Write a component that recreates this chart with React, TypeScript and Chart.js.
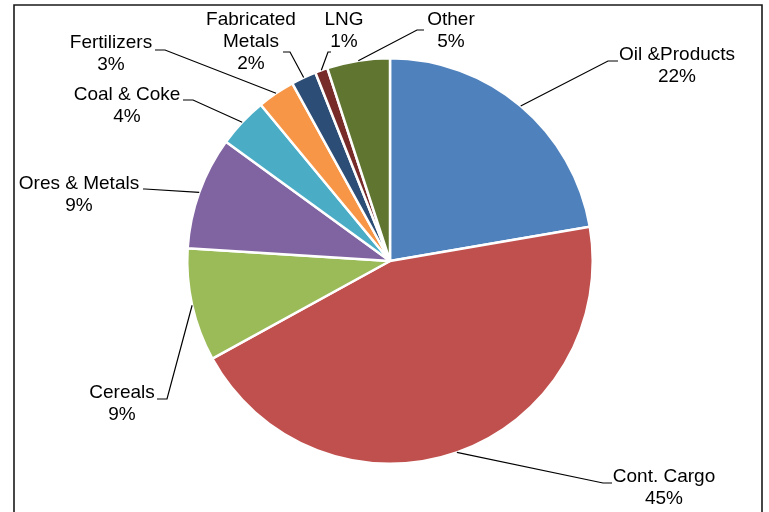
import React, { useEffect, useRef } from "react";
import { Chart, registerables } from "chart.js";

Chart.register(...registerables);

// Data
const categories = [
  ["Oil &Products"],
  ["Cont. Cargo"],
  ["Cereals"],
  ["Ores & Metals"],
  ["Coal & Coke"],
  ["Fertilizers"],
  ["Fabricated", "Metals"],
  ["LNG"],
  ["Other"],
];
const shares = [22.3, 44.7, 9, 9, 4, 3, 2, 1, 5];

const colors = [
  "#4F81BD",
  "#C0504D",
  "#9BBB59",
  "#8064A2",
  "#4BACC6",
  "#F79646",
  "#2C4D75",
  "#772C2A",
  "#5F7530",
];

// Label layout: text center x, first line center y, elbow point, end of horizontal segment
const labelLayout = [
  { tx: 677, ty: 55, ex: 608, ey: 61, hx: 618 },
  { tx: 664, ty: 477, ex: 603, ey: 483, hx: 612 },
  { tx: 122, ty: 393, ex: 167, ey: 399, hx: 157 },
  { tx: 79, ty: 184, ex: 145, ey: 189, hx: 143 },
  { tx: 127, ty: 95, ex: 193, ey: 100, hx: 183 },
  { tx: 111, ty: 43, ex: 165, ey: 50, hx: 155 },
  { tx: 251, ty: 20, ex: 290, ey: 52, hx: 283 },
  { tx: 344, ty: 20, ex: 328, ey: 52, hx: 331 },
  { tx: 451, ty: 20, ex: 417, ey: 30, hx: 424 },
];

const LINE_H = 22;
const FONT = '19px "Liberation Sans", Arial, sans-serif';

const labelPlugin = {
  id: "leaderLabels",
  beforeDraw(chart: any) {
    const ctx = chart.ctx;
    ctx.save();
    ctx.strokeStyle = "#1a1a1a";
    ctx.lineWidth = 1.6;
    ctx.beginPath();
    ctx.moveTo(14, 560);
    ctx.lineTo(14, 5);
    ctx.lineTo(762, 5);
    ctx.lineTo(762, 560);
    ctx.stroke();
    ctx.restore();
  },
  afterDraw(chart: any) {
    const ctx = chart.ctx;
    const meta = chart.getDatasetMeta(0);
    const vals = chart.data.datasets[0].data as number[];
    const total = vals.reduce((a, b) => a + b, 0);
    ctx.save();
    meta.data.forEach((arc: any, i: number) => {
      const p = arc.getProps(["x", "y", "startAngle", "endAngle", "outerRadius"], true);
      const mid = (p.startAngle + p.endAngle) / 2;
      const sx = p.x + Math.cos(mid) * p.outerRadius;
      const sy = p.y + Math.sin(mid) * p.outerRadius;
      const L = labelLayout[i];
      ctx.strokeStyle = "#000";
      ctx.lineWidth = 1.2;
      ctx.beginPath();
      ctx.moveTo(sx, sy);
      ctx.lineTo(L.ex, L.ey);
      ctx.lineTo(L.hx, L.ey);
      ctx.stroke();
      const lines = [...categories[i], Math.round((vals[i] / total) * 100) + "%"];
      ctx.fillStyle = "#000";
      ctx.font = FONT;
      ctx.textAlign = "center";
      ctx.textBaseline = "middle";
      lines.forEach((t, k) => ctx.fillText(t, L.tx, L.ty + k * LINE_H));
    });
    ctx.restore();
  },
};

export default function App() {
  const ref = useRef<HTMLCanvasElement>(null);
  useEffect(() => {
    if (!ref.current) return;
    const chart = new Chart(ref.current, {
      type: "pie",
      data: {
        labels: categories.map((c) => c.join(" ")),
        datasets: [
          {
            data: shares,
            backgroundColor: colors,
            borderColor: "#ffffff",
            borderWidth: 2.5,
          },
        ],
      },
      options: {
        responsive: false,
        animation: false,
        layout: { padding: { left: 186, right: 175, top: 57, bottom: 47 } },
        plugins: {
          legend: { display: false },
          tooltip: { enabled: false },
        },
      },
      plugins: [labelPlugin],
    });
    return () => chart.destroy();
  }, []);
  return (
    <div style={{ position: "absolute", left: 0, top: 0, width: 769, height: 512, background: "#fff" }}>
      <canvas ref={ref} width={769} height={512} style={{ width: 769, height: 512 }} />
    </div>
  );
}
